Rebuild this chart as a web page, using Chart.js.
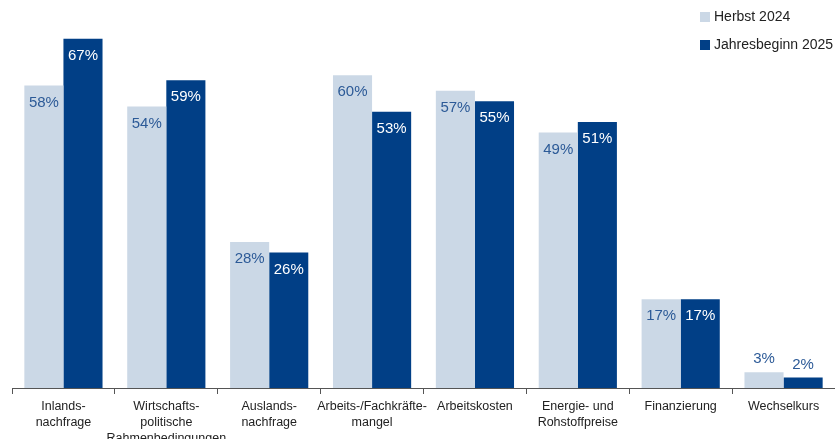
<!DOCTYPE html>
<html>
<head>
<meta charset="utf-8">
<script src="https://cdn.jsdelivr.net/npm/chart.js@4"></script>
<style>
  html, body { margin: 0; padding: 0; background: #fff; }
  #wrap { width: 835px; height: 439px; }
</style>
</head>
<body>
<div id="wrap"><canvas id="chart" width="835" height="439"></canvas></div>
<script>
// Kategorien (mehrzeilige Beschriftung)
const categories = [
  ["Inlands-", "nachfrage"],
  ["Wirtschafts-", "politische", "Rahmenbedingungen"],
  ["Auslands-", "nachfrage"],
  ["Arbeits-/Fachkräfte-", "mangel"],
  ["Arbeitskosten"],
  ["Energie- und", "Rohstoffpreise"],
  ["Finanzierung"],
  ["Wechselkurs"]
];
const herbst2024 = [58, 54, 28, 60, 57, 49, 17, 3];
const jahresbeginn2025 = [67, 59, 26, 53, 55, 51, 17, 2];
const seriesNames = ["Herbst 2024", "Jahresbeginn 2025"];

const colLight = "#cbd8e6";
const colDark = "#013f86";
const FONT = "'Liberation Sans', 'DejaVu Sans', sans-serif";

// Werte in den Balken
const valueLabels = {
  id: "valueLabels",
  afterDatasetsDraw(chart) {
    const ctx = chart.ctx;
    ctx.save();
    ctx.font = "15px " + FONT;
    ctx.textAlign = "center";
    ctx.textBaseline = "middle";
    chart.data.datasets.forEach((ds, i) => {
      const meta = chart.getDatasetMeta(i);
      meta.data.forEach((bar, j) => {
        const v = ds.data[j];
        let y = bar.y + 17;
        if (v < 8) y = bar.y - 13;
        ctx.fillStyle = i === 0 || v < 8 ? "#2c5a97" : "#ffffff";
        ctx.fillText(v + "%", bar.x, y);
      });
    });
    ctx.restore();
  }
};

// Legende oben rechts, untereinander
const sideLegend = {
  id: "sideLegend",
  afterDraw(chart) {
    const ctx = chart.ctx;
    ctx.save();
    ctx.font = "14px " + FONT;
    ctx.textBaseline = "middle";
    chart.data.datasets.forEach((ds, i) => {
      const y = 17 + i * 28;
      ctx.fillStyle = ds.backgroundColor;
      ctx.fillRect(700, y - 5, 10, 10);
      ctx.fillStyle = "#222";
      ctx.fillText(ds.label, 714, y);
    });
    ctx.restore();
  }
};

const ctx = document.getElementById("chart").getContext("2d");
const chart = new Chart(ctx, {
  type: "bar",
  data: {
    labels: categories,
    datasets: [
      { label: seriesNames[0], data: herbst2024, backgroundColor: colLight },
      { label: seriesNames[1], data: jahresbeginn2025, backgroundColor: colDark }
    ]
  },
  options: {
    responsive: false,
    animation: false,
    layout: { padding: { left: 12, right: 0, top: 23, bottom: 0 } },
    datasets: { bar: { categoryPercentage: 0.76, barPercentage: 1 } },
    plugins: {
      legend: { display: false },
      tooltip: { enabled: false }
    },
    scales: {
      x: {
        grid: {
          offset: true,
          drawOnChartArea: false,
          drawTicks: true,
          tickLength: 6,
          color: "#555"
        },
        border: { display: true, color: "#555", width: 1 },
        ticks: {
          color: "#222",
          font: { family: FONT, size: 12.5, lineHeight: 1.3 },
          padding: 4,
          maxRotation: 0,
          autoSkip: false
        },
        afterFit(scale) { scale.height = 51; }
      },
      y: {
        display: false,
        min: 0,
        max: 70
      }
    }
  },
  plugins: [valueLabels, sideLegend]
});
</script>
</body>
</html>
